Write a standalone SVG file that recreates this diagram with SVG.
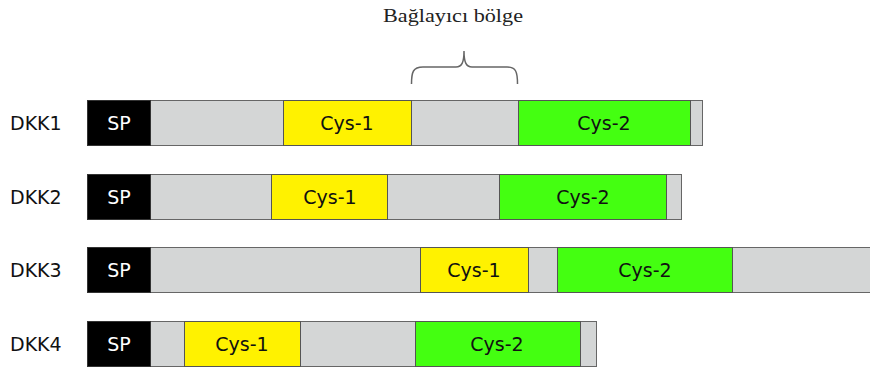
<svg xmlns="http://www.w3.org/2000/svg" width="870" height="367" viewBox="0 0 870 367">
<style>
.lbl{font-family:"DejaVu Sans","Verdana",sans-serif;font-size:19px;fill:#111}
.in{font-family:"DejaVu Sans","Verdana",sans-serif;font-size:19px;fill:#111;text-anchor:middle}
.sp{font-family:"DejaVu Sans","Verdana",sans-serif;font-size:19px;fill:#fff;text-anchor:middle}
.g{fill:#d4d6d6;stroke:#666;stroke-width:1}
.y{fill:#fff200;stroke:#555;stroke-width:1}
.gr{fill:#44ff11;stroke:#555;stroke-width:1}
.k{fill:#000;stroke:#333;stroke-width:1}
</style>
<rect width="870" height="367" fill="#fff"/>
<g id="title">
<text x="453" y="22" font-family="Liberation Serif,serif" font-size="18" fill="#222" text-anchor="middle" textLength="140" lengthAdjust="spacingAndGlyphs">Bağlayıcı bölge</text>
<path d="M411.5,84 C411.5,72 413,67 423,67 L456,67 C462,67 464,62 464,51 C464,62 466,67 472,67 L507,67 C516,67 517.5,72 517.5,84" fill="none" stroke="#666" stroke-width="1.5"/>
</g>
<g id="DKK1">
<text class="lbl" x="10" y="130">DKK1</text>
<rect class="g" x="87.5" y="100.5" width="615" height="45"/>
<rect class="k" x="87.5" y="100.5" width="63" height="45"/>
<rect class="y" x="283.5" y="100.5" width="128" height="45"/>
<rect class="gr" x="518.5" y="100.5" width="172" height="45"/>
<text class="sp" x="119" y="130">SP</text>
<text class="in" x="347" y="130">Cys-1</text>
<text class="in" x="604" y="130">Cys-2</text>
</g>
<g id="DKK2">
<text class="lbl" x="10" y="204">DKK2</text>
<rect class="g" x="87.5" y="174.5" width="594" height="45"/>
<rect class="k" x="87.5" y="174.5" width="63" height="45"/>
<rect class="y" x="271.5" y="174.5" width="116" height="45"/>
<rect class="gr" x="499.5" y="174.5" width="167" height="45"/>
<text class="sp" x="119" y="204">SP</text>
<text class="in" x="330" y="204">Cys-1</text>
<text class="in" x="583" y="204">Cys-2</text>
</g>
<g id="DKK3">
<text class="lbl" x="10" y="277">DKK3</text>
<rect class="g" x="87.5" y="247.5" width="790" height="45"/>
<rect class="k" x="87.5" y="247.5" width="63" height="45"/>
<rect class="y" x="420.5" y="247.5" width="108" height="45"/>
<rect class="gr" x="557.5" y="247.5" width="175" height="45"/>
<text class="sp" x="119" y="277">SP</text>
<text class="in" x="474" y="277">Cys-1</text>
<text class="in" x="645" y="277">Cys-2</text>
</g>
<g id="DKK4">
<text class="lbl" x="10" y="351">DKK4</text>
<rect class="g" x="87.5" y="321.5" width="509" height="45"/>
<rect class="k" x="87.5" y="321.5" width="63" height="45"/>
<rect class="y" x="184.5" y="321.5" width="116" height="45"/>
<rect class="gr" x="415.5" y="321.5" width="165" height="45"/>
<text class="sp" x="119" y="351">SP</text>
<text class="in" x="242" y="351">Cys-1</text>
<text class="in" x="497" y="351">Cys-2</text>
</g>
<g id="connectors"></g>
</svg>
